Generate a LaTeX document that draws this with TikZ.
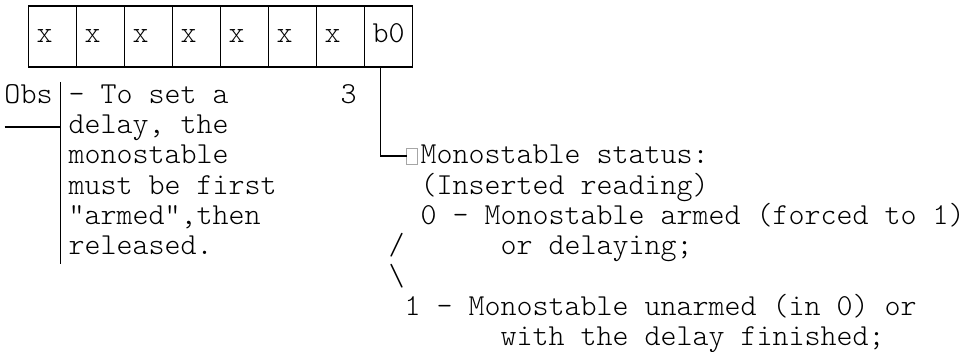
\documentclass[tikz,border=0pt]{standalone}
\usepackage{fontspec}
\newfontfamily\asciimono{Latin Modern Mono Light}
\begin{document}
\begin{tikzpicture}[x=1pt,y=-1pt,
  txt/.style={anchor=base west, inner sep=0pt, outer sep=0pt,
    font=\asciimono\fontsize{30.48pt}{30pt}\selectfont},
  cell/.style={draw, line width=1.8pt, minimum width=48pt, minimum height=61pt,
    inner sep=0pt, outer sep=0pt},
  rule/.style={line width=1.8pt},
  tofu/.style={draw=black!35, line width=0.8pt, minimum width=11pt,
    minimum height=16pt, inner sep=0pt, outer sep=0pt}]

\useasboundingbox (0,0) rectangle (965,352);

\begin{scope}[xshift=-2.5pt]
% register cells
\foreach \i in {1,...,8} \node[cell] (c\i) at (7+48*\i, 36.5) {};
\foreach \i/\c in {1/39,2/87,3/135,4/183,5/231,6/279,7/327}
  \node[txt] (bit\i) at (\c, 42.8) {x};
\node[txt] (bit8) at (375, 42.8) {b0};

% note on the left
\node[txt] (obs) at (7, 103.4) {Obs};
\node[txt] (n1) at (71, 103.4) {- To set a};
\node[txt] (n2) at (71, 133.7) {delay, the};
\node[txt] (n3) at (71, 164.0) {monostable};
\node[txt] (n4) at (71, 194.3) {must be first};
\node[txt] (n5) at (71, 224.6) {"armed",then};
\node[txt] (n6) at (71, 254.9) {released.};
\node[txt] (three) at (343, 103.4) {3};

\coordinate (bartop) at (63, 82);
\coordinate (barbot) at (63, 264);
\coordinate (stub) at (7, 126.7);
\draw[rule] (bartop) -- (barbot);
\draw[rule] (stub) -- (stub -| bartop);

% description of bit 0
\node[tofu] (tofu) at (414.5, 156) {};
\node[txt] (s1) at (423, 164.0) {Monostable status:};
\node[txt] (s2) at (423, 194.3) {(Inserted reading)};
\node[txt] (s3) at (423, 224.6) {0 - Monostable armed (forced to 1)};
\node[txt] (sl) at (391, 254.9) {/};
\node[txt] (s4) at (503, 254.9) {or delaying;};
\node[txt] (sb) at (391, 285.2) {\textbackslash};
\node[txt] (s5) at (407, 315.5) {1 - Monostable unarmed (in 0) or};
\node[txt] (s6) at (503, 345.8) {with the delay finished;};

\draw[rule] ([xshift=-8pt]c8.south) |- (tofu.west);
\end{scope}
\end{tikzpicture}
\end{document}
